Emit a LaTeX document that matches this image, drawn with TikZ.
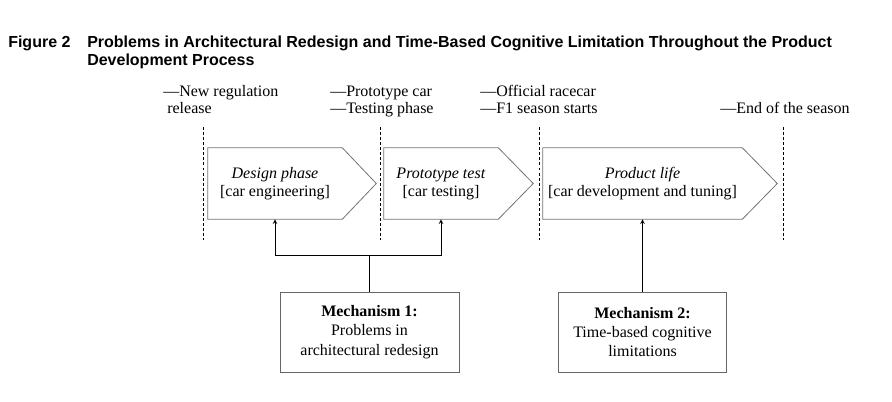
\documentclass[tikz,border=0pt]{standalone}
\usepackage{fontspec}
\setmainfont{Liberation Serif}
\newfontfamily\titlefont{Liberation Sans}
\usepackage{tikz}
\usetikzlibrary{arrows}

\begin{document}
\begin{tikzpicture}[x=0.75pt, y=-0.75pt, font=\fontsize{12}{13.5}\selectfont,
  phase/.style={inner sep=0pt, minimum width=#1, minimum height=53.25pt, align=center},
  phaseline/.style={black!55, line width=0.6pt},
  mechbox/.style={draw=black!60, line width=0.6pt, minimum width=#1, minimum height=60pt, align=center, inner sep=0pt, font=\fontsize{12}{14.6}\selectfont},
  milestone/.style={anchor=base west, align=left, inner sep=0pt, font=\fontsize{12}{12.75}\selectfont},
  timeline/.style={dash pattern=on 2.2pt off 1.6pt, line width=0.6pt}]
\useasboundingbox (0,0) rectangle (892,401);
% title
\node[anchor=base west, inner sep=0pt, font=\titlefont\bfseries\fontsize{12}{13.5}\selectfont] (fignum) at (8,47) {Figure 2};
\node[anchor=base west, inner sep=0pt, align=left, font=\titlefont\bfseries\fontsize{12}{13.5}\selectfont] (figtitle) at (87,65) {Problems in Architectural Redesign and Time-Based Cognitive Limitation Throughout the Product\\Development Process};
% milestones
\node[milestone] (regulation) at (163,113) {---New regulation\\\hspace*{3pt}release};
\node[milestone] (prototype) at (330,113) {---Prototype car\\---Testing phase};
\node[milestone] (official) at (480,113) {---Official racecar\\---F1 season starts};
\node[milestone] (seasonend) at (720,113) {---End of the season};
\draw[timeline] (203,127) -- (203,240);
\draw[timeline] (380,127) -- (380,240);
\draw[timeline] (539,127) -- (539,240);
\draw[timeline] (783,127) -- (783,240);
% phases
\node[phase=100.5pt] (design) at (275,183.5) {\textit{Design phase}\\{[car engineering]}};
\draw[phaseline] (design.north west) -- (design.north east) -- ([xshift=25.5pt]design.east) -- (design.south east) -- (design.south west) -- cycle;
\node[phase=85.5pt] (test) at (441,183.5) {\textit{Prototype test}\\{[car testing]}};
\draw[phaseline] (test.north west) -- (test.north east) -- ([xshift=26.25pt]test.east) -- (test.south east) -- (test.south west) -- cycle;
\node[phase=149.25pt] (life) at (642.5,183.5) {\textit{Product life}\\{[car development and tuning]}};
\draw[phaseline] (life.north west) -- (life.north east) -- ([xshift=26.25pt]life.east) -- (life.south east) -- (life.south west) -- cycle;
% mechanisms
\node[mechbox=134.25pt] (mech1) at (369.5,332) {\textbf{Mechanism 1:}\\Problems in\\architectural redesign};
\node[mechbox=126pt] (mech2) at (642.5,332) {\textbf{Mechanism 2:}\\Time-based cognitive\\limitations};
\coordinate (fork) at (369.5,255);
\draw[line width=0.6pt] (mech1.north) -- (fork);
\draw[line width=0.6pt, >=stealth, ->] (fork) -| (design.south);
\draw[line width=0.6pt, >=stealth, ->] (fork) -| (test.south);
\draw[line width=0.6pt, >=stealth, ->] (mech2.north) -- (life.south);
\end{tikzpicture}
\end{document}
